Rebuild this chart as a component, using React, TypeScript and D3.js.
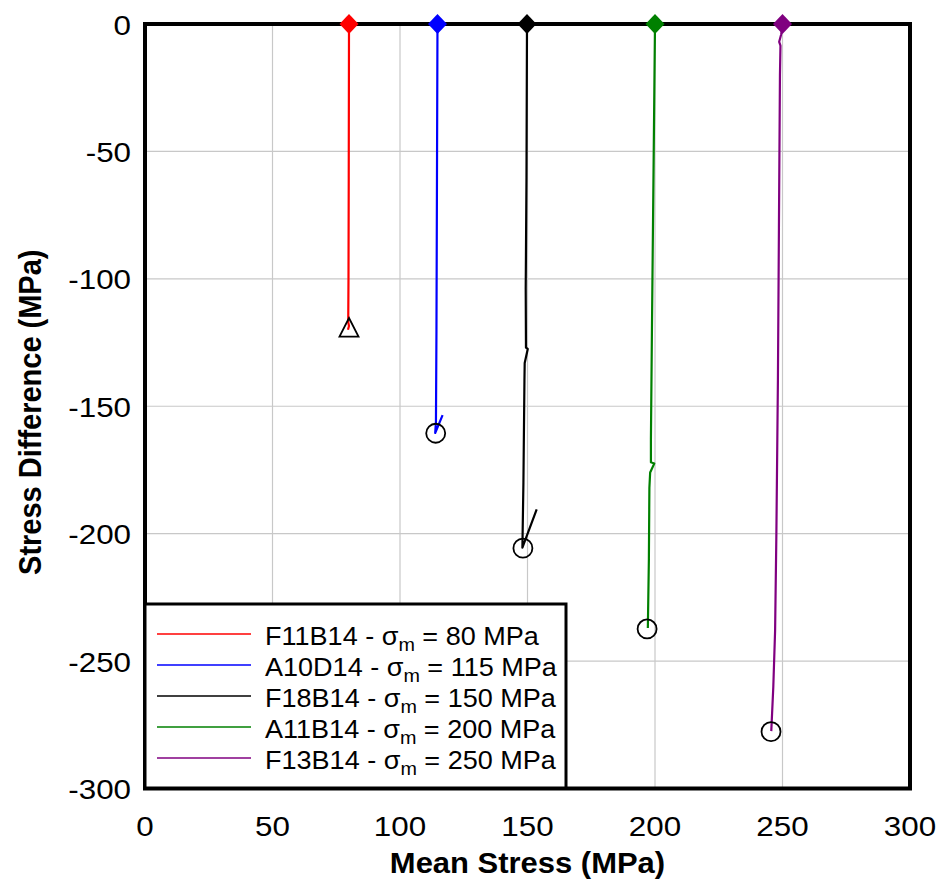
import React from "react";
import * as d3 from "d3";

const W = 941;
const H = 882;

const xTicks = [0, 50, 100, 150, 200, 250, 300];
const yTicks = [0, -50, -100, -150, -200, -250, -300];

const seriesNames = ["F11B14", "A10D14", "F18B14", "A11B14", "F13B14"];
const seriesSigma = [80, 115, 150, 200, 250];
const seriesColors = ["#ff0000", "#0000ff", "#000000", "#008000", "#800080"];

const redPts: [number, number][] = [[80, 0], [79.9, -60], [79.8, -100], [79.7, -117], [80, -118.5], [79.6, -120]];
const bluePts: [number, number][] = [[114.7, 0], [114.5, -60], [114.3, -120], [114.1, -156], [113.8, -160.5], [116.7, -153.5]];
const blackPts: [number, number][] = [[149.8, 0], [149.6, -60], [149.3, -104], [149.4, -127], [150.1, -127.5], [148.9, -133], [148.8, -140], [148.4, -180], [148, -205.5], [153.6, -190.5]];
const greenPts: [number, number][] = [[200, 0], [199.4, -60], [198.8, -120], [198.4, -163], [198.4, -172], [199.7, -172.5], [198.1, -176], [197.8, -182], [197.6, -210], [197.2, -237]];
const purplePts: [number, number][] = [[250, 0], [249.5, -4], [248.7, -7], [249.2, -8.5], [249, -20], [248.6, -80], [248.2, -140], [247.6, -200], [247.1, -238], [246.4, -260], [245.6, -277.5]];
const seriesPts = [redPts, bluePts, blackPts, greenPts, purplePts];

const endCircles: [number, number][] = [[114, -160.6], [148.2, -205.7], [196.9, -237.4], [245.5, -277.7]];
const endTriangle: [number, number] = [80, -119.5];

const L = 145, R = 910, T = 24, B = 788.5;
const FONT = "'Liberation Sans', Arial, sans-serif";

export default function App() {
  const x = d3.scaleLinear().domain([0, 300]).range([L, R]);
  const y = d3.scaleLinear().domain([-300, 0]).range([B, T]);
  const line = d3.line<[number, number]>().x(d => x(d[0])).y(d => y(d[1]));

  const legX = 145, legY = 604, legW = 421, legH = 184;
  const rowY = (i: number) => 634 + i * 31;

  return (
    <svg width={W} height={H} style={{ position: "absolute", left: 0, top: 0 }} fontFamily={FONT}>
      <rect x={0} y={0} width={W} height={H} fill="#fff" />
      {/* grid */}
      {xTicks.map(t => (
        <line key={"gx" + t} x1={x(t)} x2={x(t)} y1={T} y2={B} stroke="#c8c8c8" strokeWidth={1.2} />
      ))}
      {yTicks.map(t => (
        <line key={"gy" + t} x1={L} x2={R} y1={y(t)} y2={y(t)} stroke="#c8c8c8" strokeWidth={1.2} />
      ))}
      {/* data lines */}
      {seriesPts.map((pts, i) => (
        <path key={"s" + i} d={line(pts) || ""} fill="none" stroke={seriesColors[i]} strokeWidth={2.2} strokeLinejoin="round" />
      ))}
      {/* end markers */}
      {endCircles.map((c, i) => (
        <circle key={"c" + i} cx={x(c[0])} cy={y(c[1])} r={9.5} fill="none" stroke="#000" strokeWidth={1.8} />
      ))}
      <path
        d={`M${x(endTriangle[0])},${y(endTriangle[1]) - 10.5} L${x(endTriangle[0]) + 9.5},${y(endTriangle[1]) + 8} L${x(endTriangle[0]) - 9.5},${y(endTriangle[1]) + 8} Z`}
        fill="none" stroke="#000" strokeWidth={1.8}
      />
      {/* frame */}
      <rect x={L} y={T} width={R - L} height={B - T} fill="none" stroke="#000" strokeWidth={4} />
      {/* start diamonds */}
      {seriesPts.map((pts, i) => {
        const cx = x(pts[0][0]);
        const cy = y(pts[0][1]);
        return (
          <path key={"d" + i} d={`M${cx},${cy - 10} L${cx + 9.5},${cy} L${cx},${cy + 10} L${cx - 9.5},${cy} Z`} fill={seriesColors[i]} />
        );
      })}
      {/* tick labels */}
      {yTicks.map(t => (
        <text key={"ty" + t} transform={`translate(131,${y(t) + 10.5}) scale(1.1,1)`} textAnchor="end" fontSize={28.5}>{t}</text>
      ))}
      {xTicks.map(t => (
        <text key={"tx" + t} transform={`translate(${x(t)},836) scale(1.1,1)`} textAnchor="middle" fontSize={28.5}>{t}</text>
      ))}
      {/* axis titles */}
      <text transform={`translate(${(L + R) / 2},873) scale(1.05,1)`} textAnchor="middle" fontSize={29.5} fontWeight="bold">Mean Stress (MPa)</text>
      <text transform={`translate(41,${(T + B) / 2 + 6}) rotate(-90) scale(1,1.1)`} textAnchor="middle" fontSize={29} fontWeight="bold">Stress Difference (MPa)</text>
      {/* legend */}
      <rect x={legX} y={legY} width={legW} height={legH} fill="#fff" stroke="#000" strokeWidth={3} />
      {seriesNames.map((n, i) => (
        <g key={"l" + i}>
          <line x1={157} x2={251} y1={rowY(i)} y2={rowY(i)} stroke={seriesColors[i]} strokeWidth={1.5} />
          <text transform={`translate(265,${rowY(i) + 11}) scale(1.04,1)`} fontSize={26}>
            {n} - σ<tspan fontSize={19} dy={6}>m</tspan><tspan dy={-6}> = {seriesSigma[i]} MPa</tspan>
          </text>
        </g>
      ))}
    </svg>
  );
}
